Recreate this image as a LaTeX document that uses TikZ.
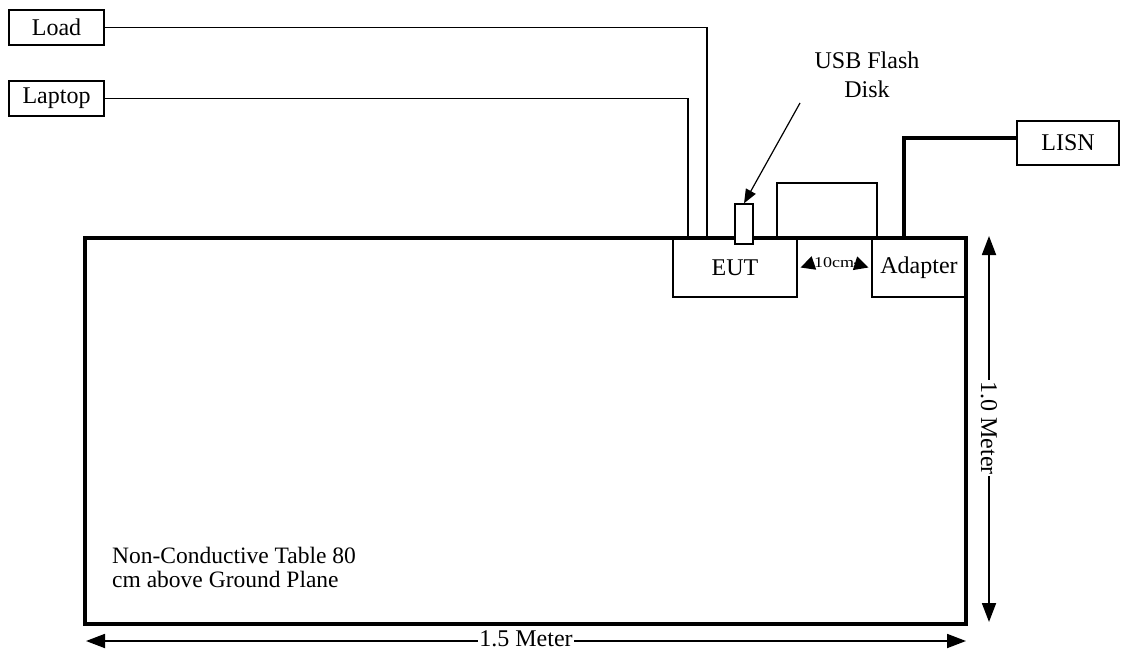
\documentclass[tikz,border=0pt]{standalone}
\usepackage{fontspec}
\usepackage{graphicx}
\setmainfont{Liberation Serif}
\usetikzlibrary{arrows.meta}
\tikzset{
  box/.style={draw, line width=1.3pt, inner sep=0pt, font=\fontsize{24}{26}\selectfont},
  wire/.style={draw, line width=1.5pt},
  heavy/.style={draw, line width=3.6pt},
  dimarrow/.style={line width=1.8pt, {Triangle[length=19pt,width=14pt]}-{Triangle[length=19pt,width=14pt]}},
  lbl/.style={font=\fontsize{24}{26}\selectfont, inner sep=0pt},
  smalltip/.style={line width=1.2pt, -{Triangle[length=14pt,width=14pt]}},
}
\begin{document}
\begin{tikzpicture}[x=1pt,y=-1pt]
\useasboundingbox (0,0) rectangle (1121,650);
% table
\node[draw, line width=3.6pt, minimum width=881pt, minimum height=386pt, inner sep=0pt] (table) at (525.5,431) {};
\node[lbl, align=left, anchor=north west, font=\fontsize{23.5}{24}\selectfont] (note) at (112,547) {Non-Conductive Table 80\\cm above Ground Plane};
% boxes
\node[box, minimum width=95pt, minimum height=35pt] (load) at (56.5,27.5) {Load};
\node[box, minimum width=95pt, minimum height=35pt] (laptop) at (56.5,98.5) {Laptop};
\node[box, minimum width=124pt, minimum height=59pt] (eut) at (735,267.5) {EUT};
\node[box, minimum width=94pt, minimum height=59pt] (adapter) at (919,267.5) {Adapter};
\node[box, minimum width=102pt, minimum height=44pt] (lisn) at (1068,143) {LISN};
\node[draw, line width=1.3pt, fill=white, minimum width=18pt, minimum height=40pt, inner sep=0pt] (usb) at (744,224) {};
\node[lbl, align=center, font=\fontsize{24}{29}\selectfont] (usblbl) at (867,75) {USB Flash\\Disk};
% wires
\coordinate (loadend) at (707,238);
\coordinate (lapend) at (688,238);
\draw[wire] (load.east) -| (loadend);
\draw[wire] (laptop.east) -| (lapend);
\coordinate (loopa) at (777,238);
\coordinate (looptop) at (877,183);
\coordinate (loopb) at (877,238);
\draw[wire] (loopa) |- (looptop) -- (loopb);
\coordinate (adpt) at (904,238);
\draw[heavy] (adpt) |- ([yshift=5pt]lisn.west);
\coordinate (usbtail) at (800,103);
\draw[wire, line width=1.2pt, -{Triangle[length=14pt,width=11pt]}] (usbtail) -- (usb.north);
% 10cm
\node[font=\fontsize{15}{15}\selectfont, inner sep=0pt] (ten) at (834,263) {\scalebox{1.2}[1]{10cm}};
\draw[smalltip] (ten.west) -- ([xshift=3pt]eut.east);
\draw[smalltip] (ten.east) -- ([xshift=-3pt]adapter.west);
% dimensions
\coordinate (b1) at (86,641);
\coordinate (b2) at (966,641);
\draw[dimarrow] (b1) -- (b2);
\node[lbl, fill=white, inner sep=1pt, anchor=base] (w15) at (526,646) {1.5 Meter};
\coordinate (r1) at (989,236);
\coordinate (r2) at (989,622);
\draw[dimarrow] (r1) -- (r2);
\node[lbl, fill=white, inner sep=1pt, rotate=-90] (h10) at (989,428) {1.0 Meter};
\end{tikzpicture}
\end{document}
